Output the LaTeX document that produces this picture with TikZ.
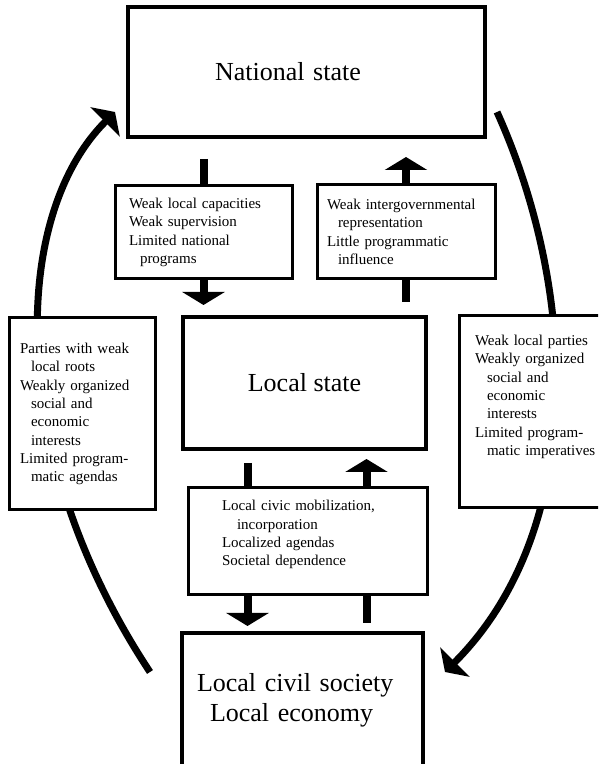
\documentclass[tikz,border=0pt]{standalone}
\usepackage{fontspec}
\setmainfont{Liberation Serif}
\usepackage{tikz}
\usetikzlibrary{positioning, calc, arrows.meta, backgrounds}

\newcommand{\hangin}[1][11pt]{\hspace*{#1}}
\newcommand{\smalltext}{\fontsize{15}{18.3}\selectfont}
\newcommand{\bigtext}{\fontsize{26}{30}\selectfont}

\begin{document}
\begin{tikzpicture}[
    x=1pt, y=1pt,
    bigbox/.style={rectangle, draw, line width=4pt, fill=white, outer sep=0pt,
                   align=center, font=\bigtext},
    notebox/.style={rectangle, draw, line width=3pt, fill=white, outer sep=0pt,
                    align=left, font=\smalltext},
    fat/.style={line width=8pt, -{Triangle[length=13pt, width=42pt]}},
    bow/.style={line width=7pt, -{Triangle[length=14pt, width=41pt]}}
  ]
    \useasboundingbox (0,0) rectangle (598,764);
    \clip (0,0) rectangle (598,764);

    % Levels
    \node[bigbox, minimum width=357pt, minimum height=130pt, text width=183pt,
          inner xsep=87pt, align=left] (nat) at (306.5,692) {National state};
    \node[bigbox, minimum width=243pt, minimum height=132pt] (loc) at (304.5,381)
      {Local state};
    \node[bigbox, minimum width=241pt, minimum height=134pt, text width=211pt,
          inner xsep=15pt, align=left] (soc) at (302.5,64)
      {Local civil society\\\hangin[13pt]Local economy};

    % Vertical linkages
    \node[notebox, minimum width=177pt, minimum height=93pt, text width=149pt,
          inner xsep=14pt] (down) at (203.5,531.5)
      {Weak local capacities\\Weak supervision\\Limited national\\\hangin programs};
    \node[notebox, minimum width=178pt, minimum height=94pt, text width=158pt,
          inner xsep=10pt] (up) at (406,532)
      {Weak intergovernmental\\\hangin representation\\Little programmatic\\\hangin influence};
    \node[notebox, minimum width=239pt, minimum height=107pt, text width=171pt,
          inner xsep=34pt, text depth=72pt] (civic) at (307.5,222.5)
      {Local civic mobilization,\\\hangin[15pt]incorporation\\Localized agendas\\Societal dependence};

    % Side linkages
    \node[notebox, minimum width=146pt, minimum height=192pt, text width=124pt,
          inner xsep=11pt] (left) at (82,350)
      {Parties with weak\\\hangin local roots\\Weakly organized\\\hangin social and\\\hangin economic\\\hangin interests\\Limited program-\\\hangin matic agendas};
    \node[notebox, minimum width=153pt, minimum height=192pt, text width=121pt,
          inner xsep=16pt, text depth=143pt] (right) at (535.5,352)
      {Weak local parties\\Weakly organized\\\hangin[12pt]social and\\\hangin[12pt]economic\\\hangin[12pt]interests\\Limited program-\\\hangin[12pt]matic imperatives};

    \begin{scope}[on background layer]
      % arrows between levels
      \draw[fat, shorten <=22pt, shorten >=12pt] (nat.south -| down.center) -- (loc.north -| down.center);
      \draw[fat, shorten <=15pt, shorten >=20pt] (loc.north -| up.center) -- (nat.south -| up.center);
      \coordinate (cl) at ([xshift=-60pt]civic.center);
      \coordinate (cr) at ([xshift=59pt]civic.center);
      \draw[fat, shorten <=14pt, shorten >=7pt] (loc.south -| cl) -- (soc.north -| cl);
      \draw[fat, shorten <=10pt, shorten >=10pt] (soc.north -| cr) -- (loc.south -| cr);

      % loops round the sides
      \coordinate (lfoot) at (150,92);
      \coordinate (ltip) at (115,652);
      \coordinate (rtop) at (497,652);
      \coordinate (rtip) at (445,92);
      \draw[bow] (lfoot) .. controls (7,308) and (9,546) .. (ltip);
      \draw[bow] (rtop) .. controls (579,470) and (586,233) .. (rtip);
    \end{scope}
  \end{tikzpicture}
\end{document}
